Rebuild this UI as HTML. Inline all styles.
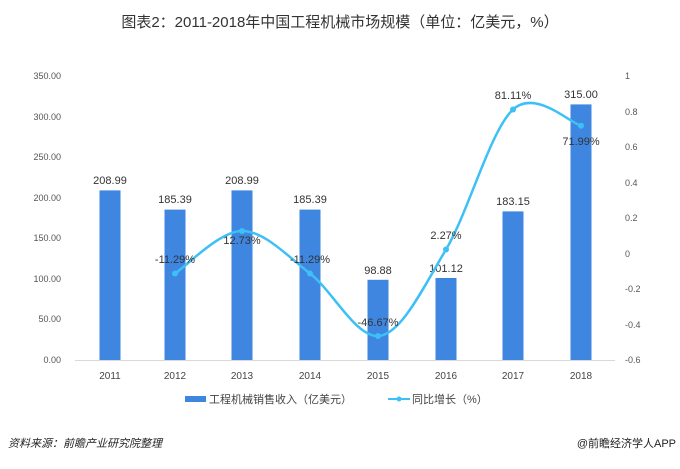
<!DOCTYPE html>
<html><head><meta charset="utf-8"><style>
body{margin:0;background:#fff;}
svg text{font-family:"Liberation Sans","Noto Sans CJK SC",sans-serif;}
</style></head><body>
<svg width="680" height="464" viewBox="0 0 680 464" xmlns="http://www.w3.org/2000/svg">
<rect width="680" height="464" fill="#fff"/>
<text x="340" y="27" font-size="15" fill="#333" text-anchor="middle">图表2：2011-2018年中国工程机械市场规模（单位：亿美元，%）</text>
<g font-size="9" fill="#555" text-anchor="end">
<text x="61" y="79">350.00</text><text x="61" y="120">300.00</text><text x="61" y="160">250.00</text>
<text x="61" y="201">200.00</text><text x="61" y="241">150.00</text><text x="61" y="282">100.00</text>
<text x="61" y="322">50.00</text><text x="61" y="363">0.00</text>
</g>
<g font-size="9" fill="#555" text-anchor="start">
<text x="625" y="79">1</text><text x="625" y="115">0.8</text><text x="625" y="150">0.6</text>
<text x="625" y="186">0.4</text><text x="625" y="221">0.2</text><text x="625" y="257">0</text>
<text x="625" y="292">-0.2</text><text x="625" y="328">-0.4</text><text x="625" y="363">-0.6</text>
</g>
<line x1="75" y1="360.5" x2="615" y2="360.5" stroke="#d9d9d9" stroke-width="1"/>
<g font-size="10" fill="#444" text-anchor="middle">
<text x="110" y="379">2011</text><text x="175" y="379">2012</text><text x="242" y="379">2013</text>
<text x="310" y="379">2014</text><text x="378" y="379">2015</text><text x="446" y="379">2016</text>
<text x="513" y="379">2017</text><text x="581" y="379">2018</text>
</g>
<g fill="#3f86e0">
<rect x="99.5" y="190.4" width="21" height="169.6"/>
<rect x="164.5" y="209.6" width="21" height="150.4"/>
<rect x="231.5" y="190.4" width="21" height="169.6"/>
<rect x="299.5" y="209.6" width="21" height="150.4"/>
<rect x="367.5" y="279.8" width="21" height="80.2"/>
<rect x="435.5" y="278" width="21" height="82"/>
<rect x="502.5" y="211.4" width="21" height="148.6"/>
<rect x="570.5" y="104.4" width="21" height="255.6"/>
</g>
<g font-size="11" fill="#333" text-anchor="middle">
<text x="110" y="184">208.99</text><text x="175" y="203">185.39</text><text x="242" y="184">208.99</text>
<text x="310" y="203">185.39</text><text x="378" y="274">98.88</text><text x="446" y="272">101.12</text>
<text x="513" y="205">183.15</text><text x="581" y="98">315.00</text>
</g>
<path d="M175,273.5 C186.2,266.4 219.5,231 242,231 C264.5,231 287.3,256 310,273.5 C332.7,291 355.3,336.7 378,336 C400.7,335.3 423.5,287.25 446,249.5 C468.5,211.75 490.5,130.1 513,109.5 C535.5,88.9 569.7,123 581,125.7" fill="none" stroke="#3cc0f5" stroke-width="2.5"/>
<g fill="#3cc0f5">
<circle cx="175" cy="273.5" r="3"/><circle cx="242" cy="231" r="3"/><circle cx="310" cy="273.5" r="3"/>
<circle cx="378" cy="336" r="3"/><circle cx="446" cy="249.5" r="3"/><circle cx="513" cy="109.5" r="3"/>
<circle cx="581" cy="125.7" r="3"/>
</g>
<g font-size="11" fill="#333" text-anchor="middle">
<text x="175" y="263">-11.29%</text><text x="242" y="244">12.73%</text><text x="310" y="263">-11.29%</text>
<text x="378" y="326">-46.67%</text><text x="446" y="239">2.27%</text><text x="513" y="99">81.11%</text>
<text x="581" y="145">71.99%</text>
</g>
<g font-size="11" fill="#444">
<rect x="185" y="396" width="21" height="6" fill="#3f86e0"/>
<text x="209" y="403">工程机械销售收入（亿美元）</text>
<line x1="388" y1="399" x2="410" y2="399" stroke="#3cc0f5" stroke-width="2"/>
<circle cx="399" cy="399" r="2.5" fill="#3cc0f5"/>
<text x="412" y="403">同比增长（%）</text>
</g>
<text x="8" y="447" font-size="11" fill="#222" font-style="italic">资料来源：前瞻产业研究院整理</text>
<text x="676" y="447" font-size="11" fill="#222" text-anchor="end">@前瞻经济学人APP</text>
</svg>
</body></html>
